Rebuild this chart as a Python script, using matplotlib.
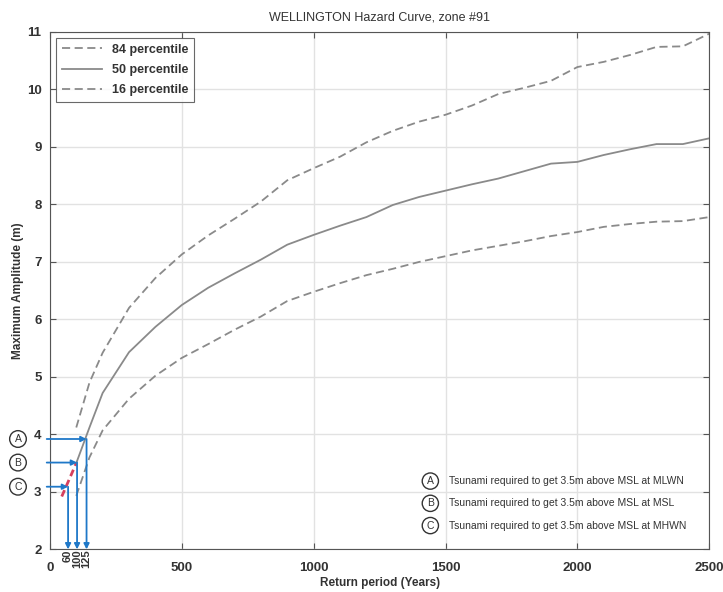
import matplotlib
matplotlib.use("Agg")
import matplotlib.pyplot as plt

plt.rcParams['font.family'] = ['Liberation Sans', 'DejaVu Sans']

# return period (years) and amplitude (m)
years = [100, 150, 200, 300, 400, 500, 600, 700, 800, 900, 1000, 1100, 1200, 1300,
         1400, 1500, 1600, 1700, 1800, 1900, 2000, 2100, 2200, 2300, 2400, 2500]
p84 = [4.12, 4.90, 5.42, 6.20, 6.72, 7.13, 7.46, 7.75, 8.05, 8.42, 8.63, 8.83, 9.08,
       9.28, 9.44, 9.56, 9.72, 9.92, 10.03, 10.15, 10.39, 10.48, 10.60, 10.74, 10.75, 10.97]
p50 = [3.50, 4.12, 4.72, 5.43, 5.87, 6.25, 6.55, 6.80, 7.04, 7.30, 7.47, 7.63, 7.78,
       7.99, 8.13, 8.24, 8.35, 8.45, 8.58, 8.71, 8.74, 8.86, 8.96, 9.05, 9.05, 9.15]
p16 = [2.93, 3.60, 4.07, 4.62, 5.02, 5.33, 5.57, 5.82, 6.05, 6.32, 6.48, 6.63, 6.77,
       6.88, 7.00, 7.10, 7.20, 7.28, 7.36, 7.45, 7.52, 7.61, 7.66, 7.70, 7.71, 7.78]

# extrapolation of the median below 100 years
extra_x = [45, 100]
extra_y = [2.92, 3.50]

# tsunami thresholds (A, B, C)
marks = ['A', 'B', 'C']
mark_x = [139, 103, 69]
mark_lbl = ['125', '100', '60']
mark_y = [3.92, 3.51, 3.09]
mark_text = ['Tsunami required to get 3.5m above MSL at MLWN',
             'Tsunami required to get 3.5m above MSL at MSL',
             'Tsunami required to get 3.5m above MSL at MHWN']

grey = '#8a8a8a'
blue = '#1f78c8'

fig = plt.figure(figsize=(7.23, 5.92), dpi=100)
ax = fig.add_axes([0.069, 0.072, 0.912, 0.874])

ax.plot(years, p84, '--', color=grey, lw=1.3, dashes=(4.5, 2.5), label='84 percentile')
ax.plot(years, p50, '-', color=grey, lw=1.3, label='50 percentile')
ax.plot(years, p16, '--', color=grey, lw=1.3, dashes=(4.5, 2.5), label='16 percentile')
ax.plot(extra_x, extra_y, '--', color='#d6405e', lw=2, dashes=(2.5, 1.5))

ax.set_xlim(0, 2500)
ax.set_ylim(2, 11)
ax.set_xticks([0, 500, 1000, 1500, 2000, 2500])
ax.set_yticks(range(2, 12))
ax.grid(True, color='#e2e2e2', lw=1)
ax.set_axisbelow(True)
ax.tick_params(direction='in', top=True, right=True, length=4, color='#555555',
               labelsize=9.5)
ax.tick_params(axis='x', pad=9)
ax.tick_params(axis='y', pad=6)
for lab in ax.get_xticklabels() + ax.get_yticklabels():
    lab.set_fontweight('bold')
    lab.set_color('#333333')
for s in ax.spines.values():
    s.set_color('#555555')

ax.set_title('WELLINGTON Hazard Curve, zone #91', fontsize=9, color='#333333', pad=8)
ax.set_xlabel('Return period (Years)', fontsize=8.5, fontweight='bold', color='#333333', labelpad=2)
ax.set_ylabel('Maximum Amplitude (m)', fontsize=8.5, fontweight='bold', color='#333333')
ax.yaxis.set_label_coords(-0.039, 0.5)

leg = ax.legend(loc='upper left', fontsize=9, handlelength=3.2, fancybox=False,
                edgecolor='#444444', borderaxespad=0.45, labelspacing=0.65,
                borderpad=0.5)
for t in leg.get_texts():
    t.set_fontweight('bold')
    t.set_color('#333333')
leg.get_frame().set_linewidth(0.8)

# threshold arrows
for m, x, lbl, y in zip(marks, mark_x, mark_lbl, mark_y):
    ax.annotate('', xy=(x, y), xytext=(-12, y), annotation_clip=False,
                arrowprops=dict(arrowstyle='-|>', color=blue, lw=1.3, mutation_scale=8,
                                shrinkA=0, shrinkB=0))
    ax.annotate('', xy=(x, 2), xytext=(x, y), annotation_clip=False,
                arrowprops=dict(arrowstyle='-|>', color=blue, lw=1.3, mutation_scale=8,
                                shrinkA=0, shrinkB=0))
    ax.text(x, 2, lbl, rotation=90, ha='center', va='top', fontsize=8, fontweight='bold',
            color='#333333', transform=ax.transData, clip_on=False,
            bbox=dict(fc='none', ec='none', pad=5))
    ax.text(-121, y, m, ha='center', va='center', fontsize=7.5, color='#333333', clip_on=False,
            bbox=dict(boxstyle='circle,pad=0.32', fc='white', ec='#333333', lw=1))

# explanation block
for i, (m, t) in enumerate(zip(marks, mark_text)):
    yy = 0.132 - i * 0.043
    ax.text(0.577, yy, m, transform=ax.transAxes, ha='center', va='center', fontsize=7.5,
            color='#333333', bbox=dict(boxstyle='circle,pad=0.3', fc='white',
                                       ec='#333333', lw=1))
    ax.text(0.606, yy, t, transform=ax.transAxes, ha='left', va='center', fontsize=7.5,
            color='#333333')

fig.savefig('out.png', dpi=100)
